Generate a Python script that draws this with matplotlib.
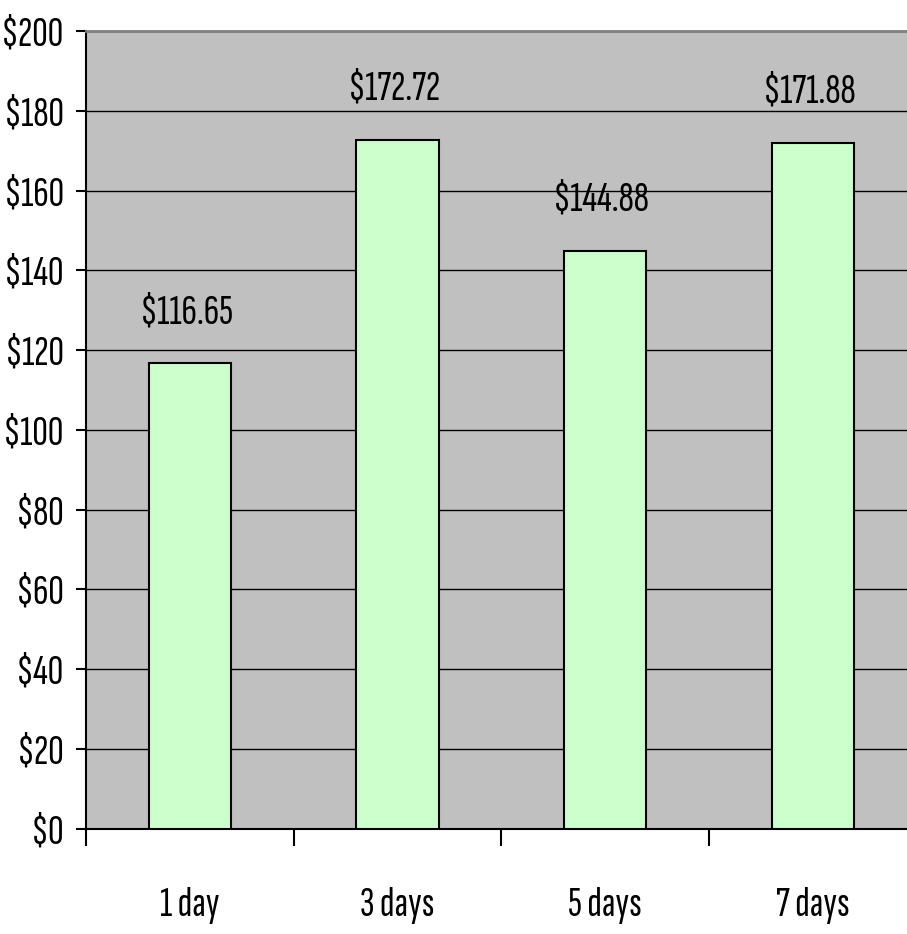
import matplotlib
matplotlib.use("Agg")
import matplotlib.pyplot as plt
from matplotlib import font_manager

# data
categories = ["1 day", "3 days", "5 days", "7 days"]
prices = [116.65, 172.72, 144.88, 171.88]
yticks = list(range(0, 201, 20))
ytick_labels = ["\\$%d" % v for v in yticks]

# the reference uses a tall narrow sans, pick a condensed face if installed
fp = font_manager.FontProperties(family="Liberation Sans", size=20)
for f in font_manager.fontManager.ttflist:
    if f.fname.endswith("SofiaSansExtraCondensed[wght].ttf"):
        fp = font_manager.FontProperties(fname=f.fname, size=31)
        break

fig = plt.figure(figsize=(9.07, 9.34), dpi=100)
ax = fig.add_axes([86 / 907, 105.3 / 934, 830.7 / 907, 797.7 / 934])
ax.set_facecolor("#C0C0C0")

x = [i + 0.5 for i in range(len(categories))]
ax.bar(x, prices, width=0.395, color="#CCFFCC", edgecolor="black", linewidth=1.5, zorder=3)

for xi, p in zip(x, prices):
    ax.annotate("\\$%.2f" % p, (xi, p), xytext=(-3, 29), textcoords="offset points",
                ha="center", va="baseline", fontproperties=fp, zorder=4)

ax.set_xlim(0, 4)
ax.set_ylim(0, 200)
ax.set_yticks(yticks)
ax.set_yticklabels(ytick_labels, fontproperties=fp)
ax.yaxis.grid(True, color="black", linewidth=1.0, zorder=1)
ax.set_axisbelow(True)

# category boundaries as major ticks, names on minor ticks
ax.set_xticks(range(len(categories) + 1))
ax.set_xticklabels([])
ax.set_xticks(x, minor=True)
ax.set_xticklabels(categories, minor=True, fontproperties=fp)
ax.tick_params(axis="x", which="major", direction="out", length=12, width=1.5)
ax.tick_params(axis="x", which="minor", length=0, pad=42)
ax.tick_params(axis="y", direction="out", length=7, width=1.5, pad=9)

ax.spines["right"].set_visible(False)
ax.spines["top"].set_color("#808080")
ax.spines["top"].set_linewidth(2)
ax.spines["left"].set_linewidth(1.5)
ax.spines["bottom"].set_linewidth(1.5)

fig.savefig("out.png", dpi=100)
